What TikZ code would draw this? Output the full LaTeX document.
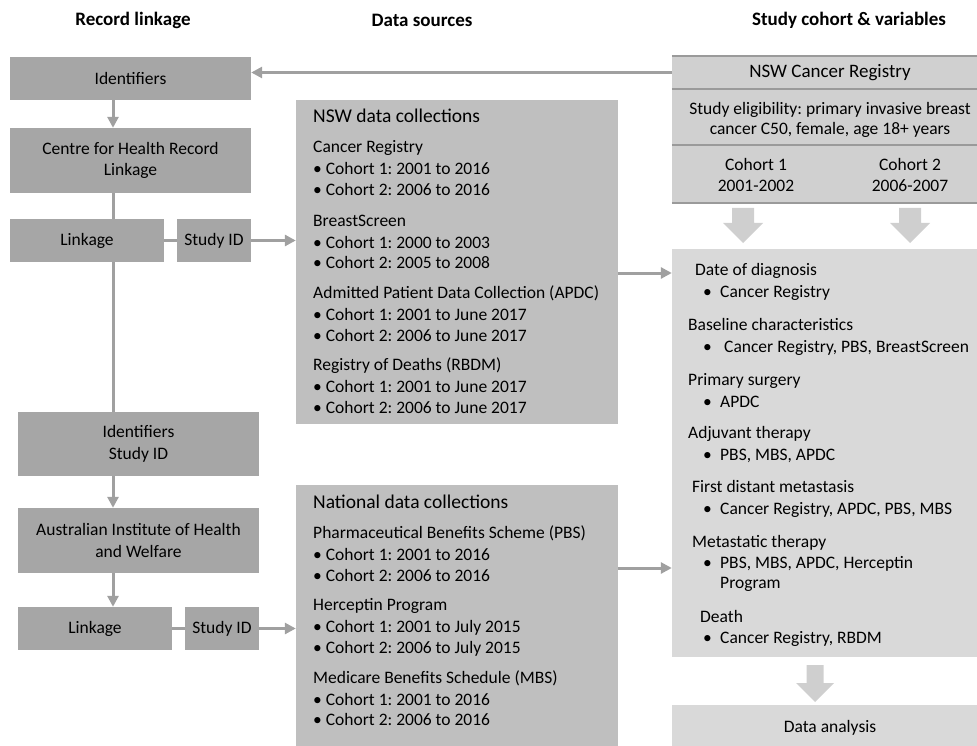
\documentclass[tikz,border=0pt]{standalone}
\usepackage{fontspec}
\setmainfont{Carlito}
\usetikzlibrary{arrows.meta,calc}
\definecolor{lgray}{HTML}{A6A6A6}
\definecolor{mgray}{HTML}{BFBFBF}
\definecolor{rgray}{HTML}{D0D0D0}
\definecolor{vgray}{HTML}{D9D9D9}
\definecolor{cgray}{HTML}{A0A0A0}
\definecolor{sepgray}{HTML}{9A9A9A}
\definecolor{agray}{HTML}{CFCFCF}
\newcommand\mybul[1]{\makebox[#1pt][l]{•}}
\frenchspacing
\begin{document}
\begin{tikzpicture}[x=1pt,y=-1pt,
  body/.style={font=\fontsize{17.5}{21.5}\selectfont},
  lbox/.style={body, fill=lgray, draw=none, inner sep=0pt, align=center},
  mbox/.style={fill=mgray, draw=none, inner sep=0pt},
  rbox/.style={fill=rgray, draw=none, inner sep=0pt},
  vbox/.style={fill=vgray, draw=none, inner sep=0pt},
  sepline/.style={draw=sepgray, line width=2pt},
  conn/.style={draw=cgray, line width=3pt},
  arr/.style={conn, -{Triangle[length=11pt,width=11pt]}},
  txt/.style={body, inner sep=0pt, text height=13pt, text depth=3pt, anchor=west},
  ttl/.style={font=\fontsize{19.5}{23}\selectfont, inner sep=0pt, text height=14pt, text depth=4pt, anchor=west},
  hdr/.style={font=\bfseries\fontsize{19}{23}\selectfont, inner sep=0pt},
  barrow/.style={fill=agray, draw=none}
]
\useasboundingbox (0,0) rectangle (977,746);
\clip (0,0) rectangle (977,746);

% headers
\node[hdr] (h1) at (133,20) {Record linkage};
\node[hdr] (h2) at (422,20) {Data sources};
\node[hdr] (h3) at (849,20) {Study cohort \& variables};

% left column
\node[lbox, minimum width=241, minimum height=43] (id1) at (130.5,78.5) {Identifiers};
\node[lbox, minimum width=241, minimum height=65] (chrl) at (130.5,160.5) {Centre for Health Record\\Linkage};
\node[lbox, minimum width=154, minimum height=43] (lk1) at (87,240.5) {Linkage};
\node[lbox, minimum width=74, minimum height=43] (sid1) at (214,240.5) {Study ID};
\node[lbox, minimum width=241, minimum height=64] (idsid) at (138.5,444) {Identifiers\\Study ID};
\node[lbox, minimum width=241, minimum height=65] (aihw) at (138.5,540.5) {Australian Institute of Health\\and Welfare};
\node[lbox, minimum width=154, minimum height=43] (lk2) at (95,628.5) {Linkage};
\node[lbox, minimum width=74, minimum height=43] (sid2) at (222,628.5) {Study ID};

% middle boxes
\node[mbox, minimum width=322, minimum height=324] (nsw) at (457,262) {};
\node[mbox, minimum width=322, minimum height=263] (nat) at (457,616.5) {};

% right column
\node[rbox, minimum width=316, minimum height=33, font=\fontsize{19}{23}\selectfont] (rt) at (830,72.5) {NSW Cancer Registry};
\node[rbox, minimum width=316, minimum height=56] (re) at (830,117) {};
\node[align=center, inner sep=0pt, font=\fontsize{17.5}{20}\selectfont] (ret) at (830,120) {Study eligibility: primary invasive breast\\cancer C50, female, age 18+ years};
\node[rbox, minimum width=316, minimum height=58] (rc) at (830,174) {};
\node[body, align=center, inner sep=0pt] (c1) at (756,175) {Cohort 1\\2001-2002};
\node[body, align=center, inner sep=0pt] (c2) at (910,175) {Cohort 2\\2006-2007};
\draw[sepline] (rt.north west) -- (rt.north east);
\draw[sepline] (rt.south west) -- (rt.south east);
\draw[sepline] (re.south west) -- (re.south east);
\draw[sepline] (rc.south west) -- (rc.south east);

\node[vbox, minimum width=316, minimum height=408] (vars) at (830,453) {};
\node[vbox, minimum width=316, minimum height=45, body] (da) at (830,727.5) {Data analysis};

% block arrows
\fill[barrow] (732,208) -- (754,208) -- (754,223) -- (763,223) -- (743,243) -- (723,223) -- (732,223) -- cycle;
\fill[barrow] (899,208) -- (921,208) -- (921,223) -- (930,223) -- (910,243) -- (890,223) -- (899,223) -- cycle;
\fill[barrow] (806.5,665) -- (823.5,665) -- (823.5,683) -- (834,683) -- (815,702) -- (796,683) -- (806.5,683) -- cycle;

% connectors
\coordinate (vx) at (113,0);
\coordinate (ya) at (0,273);
\coordinate (yb) at (0,568);
\draw[arr] (rt.west) -- (rt.west -| id1.east);
\draw[arr] (id1.south -| vx) -- (chrl.north -| vx);
\draw[conn] (chrl.south -| vx) -- (lk1.north -| vx);
\draw[conn] (lk1.south -| vx) -- (idsid.north -| vx);
\draw[arr] (idsid.south -| vx) -- (aihw.north -| vx);
\draw[arr] (aihw.south -| vx) -- (lk2.north -| vx);
\draw[conn] (lk1) -- (sid1);
\draw[arr] (sid1) -- (sid1 -| nsw.west);
\draw[conn] (lk2) -- (sid2);
\draw[arr] (sid2) -- (sid2 -| nat.west);
\draw[arr] (nsw.east |- ya) -- (vars.west |- ya);
\draw[arr] (nat.east |- yb) -- (vars.west |- yb);

% NSW data collections text
\node[ttl] (nswt) at (313,118) {NSW data collections};
\foreach \y/\t [count=\i] in {148/Cancer Registry, 170/• Cohort 1: 2001 to 2016, 191/• Cohort 2: 2006 to 2016,
  221/BreastScreen, 243/• Cohort 1: 2000 to 2003, 264/• Cohort 2: 2005 to 2008,
  293/Admitted Patient Data Collection (APDC), 315/• Cohort 1: 2001 to June 2017, 336/• Cohort 2: 2006 to June 2017,
  365/Registry of Deaths (RBDM), 387/• Cohort 1: 2001 to June 2017, 408/• Cohort 2: 2006 to June 2017}
  {\node[txt] (nswl\i) at (313,\y) {\t};}

% National data collections text
\node[ttl] (natt) at (313,503) {National data collections};
\foreach \y/\t [count=\i] in {533/Pharmaceutical Benefits Scheme (PBS), 555/• Cohort 1: 2001 to 2016, 576/• Cohort 2: 2006 to 2016,
  605/Herceptin Program, 627/• Cohort 1: 2001 to July 2015, 648/• Cohort 2: 2006 to July 2015,
  678/Medicare Benefits Schedule (MBS), 700/• Cohort 1: 2001 to 2016, 720/• Cohort 2: 2006 to 2016}
  {\node[txt] (natl\i) at (313,\y) {\t};}

% variables text
\node[txt] (v1) at (695,270) {Date of diagnosis};
\node[txt] (v2) at (703,292) {\mybul{17}Cancer Registry};
\node[txt] (v3) at (688,325) {Baseline characteristics};
\node[txt] (v4) at (703,347) {\mybul{21}Cancer Registry, PBS, BreastScreen};
\node[txt] (v5) at (688,380) {Primary surgery};
\node[txt] (v6) at (703,402) {\mybul{17}APDC};
\node[txt] (v7) at (688,433) {Adjuvant therapy};
\node[txt] (v8) at (703,455) {\mybul{17}PBS, MBS, APDC};
\node[txt] (v9) at (692,487) {First distant metastasis};
\node[txt] (v10) at (703,509) {\mybul{17}Cancer Registry, APDC, PBS, MBS};
\node[txt] (v11) at (692,542) {Metastatic therapy};
\node[txt] (v12) at (703,563) {\mybul{17}PBS, MBS, APDC, Herceptin};
\node[txt] (v13) at (720,583) {Program};
\node[txt] (v14) at (700,617) {Death};
\node[txt] (v15) at (703,638) {\mybul{17}Cancer Registry, RBDM};
\end{tikzpicture}
\end{document}
